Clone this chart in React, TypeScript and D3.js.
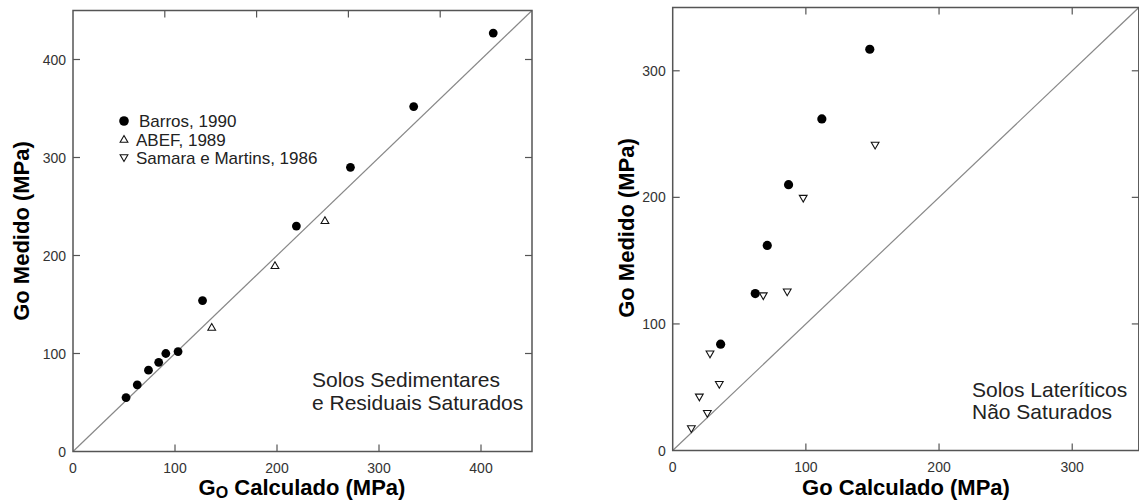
import React from "react";
import * as d3 from "d3";

// Painel esquerdo: solos sedimentares e residuais saturados
const barrosSat: [number, number][] = [
  [52, 55], [63, 68], [74, 83], [84, 91], [91, 100], [103, 102],
  [127, 154], [219, 230], [272, 290], [334, 352], [412, 427],
];
const abefSat: [number, number][] = [[136, 127], [198, 190], [247, 236]];

// Painel direito: solos lateríticos não saturados
const barrosLat: [number, number][] = [
  [36, 84], [62, 124], [71, 162], [87, 210], [112, 262], [148, 317],
];
const samaraLat: [number, number][] = [
  [14, 17], [20, 42], [26, 29], [28, 76], [35, 52], [68, 122],
  [86, 125], [98, 199], [152, 241],
];

const leftTicks = [0, 100, 200, 300, 400];
const leftTopTicks = [90, 180, 270, 360];
const rightTicks = [0, 100, 200, 300];

const legendItems = ["Barros, 1990", "ABEF, 1989", "Samara e Martins, 1986"];

const FONT = '"Liberation Sans", Arial, Helvetica, sans-serif';
const AXIS = "#555";
const TICKTXT = "#333";

const triUp = d3.symbol(d3.symbolTriangle, 26)()!;

function Triangle({ x, y, down }: { x: number; y: number; down?: boolean }) {
  return (
    <path
      d={triUp}
      transform={`translate(${x},${y + (down ? -1 : 1)}) rotate(${down ? 180 : 0})`}
      fill="white"
      stroke="#111"
      strokeWidth={1.1}
    />
  );
}

type PanelProps = {
  x0: number; x1: number; yTop: number; yBot: number; max: number;
  ticks: number[]; topTicks: number[];
  children: (x: d3.ScaleLinear<number, number>, y: d3.ScaleLinear<number, number>) => React.ReactNode;
};

function Panel({ x0, x1, yTop, yBot, max, ticks, topTicks, children }: PanelProps) {
  const x = d3.scaleLinear().domain([0, max]).range([x0, x1]);
  const y = d3.scaleLinear().domain([0, max]).range([yBot, yTop]);
  const tl = 7;
  const inner = ticks.filter((t) => t > 0);
  return (
    <g>
      <line x1={x(0)} y1={y(0)} x2={x(max)} y2={y(max)} stroke="#888" strokeWidth={1.2} />
      <rect x={x0} y={yTop} width={x1 - x0} height={yBot - yTop} fill="none" stroke={AXIS} strokeWidth={1.5} />
      {inner.map((t) => (
        <g key={"b" + t}>
          <line x1={x(t)} x2={x(t)} y1={yBot} y2={yBot - tl} stroke={AXIS} strokeWidth={1.2} />
          <line x1={x0} x2={x0 + tl} y1={y(t)} y2={y(t)} stroke={AXIS} strokeWidth={1.2} />
          <line x1={x1} x2={x1 - tl} y1={y(t)} y2={y(t)} stroke={AXIS} strokeWidth={1.2} />
        </g>
      ))}
      {topTicks.map((t) => (
        <line key={"t" + t} x1={x(t)} x2={x(t)} y1={yTop} y2={yTop + tl} stroke={AXIS} strokeWidth={1.2} />
      ))}
      {ticks.map((t) => (
        <g key={"l" + t} fontFamily={FONT} fontSize={14} fill={TICKTXT}>
          <text x={x(t)} y={yBot + 21} textAnchor="middle">{t}</text>
          <text x={x0 - 7} y={y(t) + 5} textAnchor="end">{t}</text>
        </g>
      ))}
      {children(x, y)}
    </g>
  );
}

export default function App() {
  return (
    <svg width={1139} height={501} style={{ position: "absolute", left: 0, top: 0, background: "white" }}>
      <Panel x0={73} x1={532} yTop={10.5} yBot={451.5} max={450} ticks={leftTicks} topTicks={leftTopTicks}>
        {(x, y) => (
          <g>
            {barrosSat.map(([a, b], i) => (
              <circle key={"bs" + i} cx={x(a)} cy={y(b)} r={4.4} fill="#000" />
            ))}
            {abefSat.map(([a, b], i) => (
              <Triangle key={"ab" + i} x={x(a)} y={y(b)} />
            ))}
          </g>
        )}
      </Panel>
      <Panel x0={672.7} x1={1138.8} yTop={7.5} yBot={450.5} max={350} ticks={rightTicks} topTicks={rightTicks.filter((t) => t > 0)}>
        {(x, y) => (
          <g>
            {barrosLat.map(([a, b], i) => (
              <circle key={"bl" + i} cx={x(a)} cy={y(b)} r={4.6} fill="#000" />
            ))}
            {samaraLat.map(([a, b], i) => (
              <Triangle key={"sl" + i} x={x(a)} y={y(b)} down />
            ))}
          </g>
        )}
      </Panel>

      {/* legenda */}
      <g fontFamily={FONT} fontSize={17} fill="#222">
        <circle cx={124} cy={121} r={4.8} fill="#000" />
        <Triangle x={124} y={139} />
        <Triangle x={124} y={158} down />
        {legendItems.map((s, i) => (
          <text key={s} x={i === 0 ? 139 : 136} y={127 + i * 18.5}>{s}</text>
        ))}
      </g>

      {/* anotações */}
      <g fontFamily={FONT} fontSize={21} fill="#222">
        <text x={312} y={387}>Solos Sedimentares</text>
        <text x={312} y={410}>e Residuais Saturados</text>
        <text x={972} y={397}>Solos Lateríticos</text>
        <text x={972} y={419}>Não Saturados</text>
      </g>

      {/* títulos dos eixos */}
      <g fontFamily={FONT} fontSize={22} fontWeight="bold" fill="#000">
        <text x={302} y={495} textAnchor="middle">
          G<tspan fontSize={16} dy={3}>O</tspan><tspan dy={-3}> Calculado (MPa)</tspan>
        </text>
        <text x={906} y={495} textAnchor="middle">Go Calculado (MPa)</text>
        <text transform="translate(29,231) rotate(-90)" textAnchor="middle">Go Medido (MPa)</text>
        <text transform="translate(634,228) rotate(-90)" textAnchor="middle">Go Medido (MPa)</text>
      </g>
    </svg>
  );
}
